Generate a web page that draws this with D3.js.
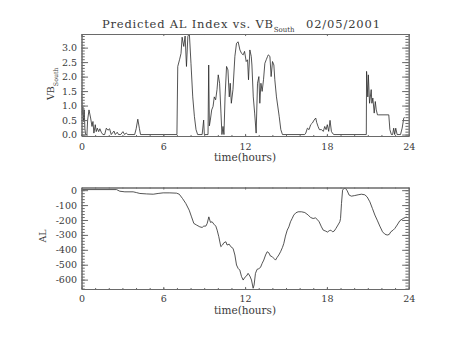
<!DOCTYPE html>
<html><head><meta charset="utf-8">
<script src="https://cdn.jsdelivr.net/npm/d3@7"></script>
<style>
html,body{margin:0;padding:0;background:#fff;}
svg{display:block;}
text{font-family:"DejaVu Serif",serif;fill:#3a3a3a;}
</style></head><body>
<svg id="c" width="454" height="341"></svg>
<script>
// ---- data ----
const vbHours = [0.0,0.05,0.1,0.15,0.2,0.25,0.3,0.4,0.45,0.55,0.67,0.77,0.84,0.91,1.01,1.08,1.16,1.26,1.35,1.45,1.57,1.7,1.82,1.94,2.06,2.18,2.38,2.48,2.62,2.72,2.87,3.04,3.16,3.28,3.4,3.9,4.01,4.13,4.25,4.33,
7.0,7.06,7.2,7.3,7.38,7.5,7.6,7.7,7.8,7.91,8.03,8.16,8.28,8.4,8.52,8.85,8.96,9.01,9.28,9.33,9.38,9.45,9.55,9.65,9.74,9.84,9.94,10.03,10.13,10.23,10.3,10.38,10.45,10.53,10.64,10.74,10.84,10.91,10.99,11.11,11.25,11.37,11.49,11.62,11.74,11.86,11.96,12.08,12.18,12.25,12.35,12.45,12.5,12.6,12.7,12.81,12.91,13.01,13.08,13.16,13.25,13.35,13.45,13.55,13.65,13.7,13.82,13.91,14.01,14.11,14.18,14.3,14.5,14.62,14.74,
16.37,16.45,16.57,16.69,16.81,16.94,17.06,17.18,17.25,17.35,17.45,17.6,17.74,17.84,17.94,18.03,18.13,18.23,18.33,18.43,18.52,
20.89,20.91,21.0,21.04,21.13,21.25,21.3,21.37,21.47,21.55,21.62,21.71,21.8,22.54,22.62,22.73,22.82,22.9,22.97,23.05,23.15,23.4,23.52,23.64,23.7];
const vbValues = [1.45,0.7,0.95,0.45,0.85,0.2,0.0,0.0,0.5,0.85,0.57,0.28,0.45,0.05,0.34,0.1,0.22,0.1,0.2,0.08,0.0,0.0,0.22,0.15,0.2,0.0,0.12,0.0,0.08,0.0,0.0,0.1,0.0,0.05,0.0,0.0,0.2,0.53,0.2,0.0,
0.0,2.35,2.6,2.8,3.36,3.04,3.4,2.35,3.38,3.5,2.46,1.3,0.63,0.17,0.0,0.0,0.5,0.0,0.0,2.4,0.3,0.5,0.85,0.97,1.3,1.2,1.55,2.06,1.77,0.74,0.0,0.28,0.0,1.3,2.35,2.23,1.3,1.77,1.08,1.55,2.7,3.15,3.2,2.92,2.8,2.75,2.87,2.52,2.58,1.89,2.92,2.7,2.4,1.3,0.74,0.05,1.77,2.0,1.08,1.77,1.49,1.89,2.46,2.58,2.7,2.75,2.7,2.0,2.52,2.4,1.89,1.3,0.63,0.17,0.0,
0.0,0.05,0.22,0.17,0.34,0.4,0.5,0.57,0.42,0.28,0.17,0.17,0.11,0.28,0.17,0.34,0.11,0.49,0.11,0.03,0.0,
0.0,2.18,1.3,2.06,1.08,1.55,1.08,1.26,0.74,1.14,0.85,0.68,0.68,0.68,0.17,0.0,0.0,0.22,0.0,0.22,0.0,0.0,0.22,0.57,0.6];

const alHours = [0,2.57,2.81,3.18,3.79,4.03,4.28,4.77,5.26,5.62,5.99,6.48,6.97,7.17,7.41,7.65,7.9,8.07,8.24,8.44,8.68,8.85,8.97,9.12,9.22,9.34,9.46,9.58,9.71,9.85,9.95,10.07,10.22,10.34,10.44,10.59,10.68,10.83,10.95,11.12,11.25,11.37,11.49,11.61,11.74,11.86,11.98,12.1,12.22,12.35,12.47,12.59,12.66,12.76,12.88,13.0,13.13,13.25,13.37,13.5,13.62,13.74,13.86,13.99,14.11,14.23,14.35,14.47,14.6,14.74,14.84,14.96,15.09,15.21,15.33,15.45,15.57,15.72,15.89,16.14,16.38,16.63,16.8,16.99,17.16,17.29,17.43,17.6,17.73,17.92,18.04,18.17,18.29,18.41,18.53,18.66,18.81,18.95,19.0,19.07,19.15,19.24,19.36,19.49,19.63,19.8,20.04,20.29,20.53,20.78,20.95,21.15,21.34,21.52,21.69,21.88,22.08,22.25,22.42,22.57,22.69,22.86,22.98,23.15,23.35,23.59,23.84];
const alValues = [4,4,-7,-11,-11,-16,-22,-25,-27,-22,-18,-18,-20,-27,-56,-89,-134,-179,-223,-234,-246,-250,-241,-241,-223,-179,-216,-212,-228,-241,-268,-312,-379,-368,-353,-346,-368,-362,-379,-391,-435,-502,-525,-536,-580,-603,-585,-576,-558,-576,-603,-658,-636,-558,-531,-527,-518,-491,-469,-435,-413,-420,-442,-446,-458,-469,-451,-435,-413,-384,-357,-308,-268,-246,-212,-190,-167,-152,-145,-145,-150,-167,-183,-190,-186,-196,-212,-246,-268,-275,-281,-272,-268,-279,-275,-257,-234,-212,-190,-89,0,11,13,-4,-33,-40,-36,-31,-27,-31,-45,-78,-123,-167,-201,-241,-279,-295,-301,-297,-279,-268,-257,-234,-205,-190,-179];

const xMajor = [0,6,12,18,24];
const vbMajor = [0,0.5,1,1.5,2,2.5,3];
const alMajor = [0,-100,-200,-300,-400,-500,-600];

// ---- layout ----
const svg = d3.select("#c");
const L = 81.5, R = 408.7;
const x = d3.scaleLinear().domain([0,24]).range([L,R]);
const xMinor = d3.range(0,25,1);
const AX = "#6a6a6a";

function panel(top, bottom, yDomain, major, minorStep, fmt, hours, values, xlabPad){
  const y = d3.scaleLinear().domain(yDomain).range([bottom, top]);
  const g = svg.append("g");
  const lo = Math.ceil(yDomain[0]/minorStep - 1e-9), hi = Math.floor(yDomain[1]/minorStep + 1e-9);
  const yMinor = d3.range(lo, hi+1).map(k => +(k*minorStep).toFixed(6));
  const W = R - L, H = bottom - top;
  const ytl = 0.02*W, xtl = 0.02*H;

  const cid = "clip"+Math.round(top);
  svg.append("clipPath").attr("id",cid).append("rect")
    .attr("x",L).attr("y",top).attr("width",W).attr("height",H);
  g.append("path").datum(hours.map((h,i)=>[h,values[i]]))
    .attr("clip-path","url(#"+cid+")")
    .attr("fill","none").attr("stroke","#2a2a2a").attr("stroke-width",0.8)
    .attr("d", d3.line().x(d=>x(d[0])).y(d=>y(d[1])));

  const style = sel => { sel.selectAll("path.domain").attr("stroke",AX);
    sel.selectAll("line").attr("stroke",AX);
    sel.attr("font-family","DejaVu Serif").attr("font-size",9.5); };

  g.append("g").attr("transform",`translate(0,${bottom})`)
    .call(d3.axisBottom(x).tickValues(xMinor).tickSize(-xtl/2).tickSizeOuter(0).tickFormat(""))
    .call(style);
  g.append("g").attr("transform",`translate(0,${bottom})`)
    .call(d3.axisBottom(x).tickValues(xMajor).tickSize(-xtl).tickSizeOuter(0).tickPadding(xlabPad).tickFormat(d3.format("d")))
    .call(style).selectAll("text").attr("fill","#3a3a3a");
  g.append("g").attr("transform",`translate(0,${top})`)
    .call(d3.axisTop(x).tickValues(xMinor).tickSize(-xtl/2).tickSizeOuter(0).tickFormat(""))
    .call(style);
  g.append("g").attr("transform",`translate(0,${top})`)
    .call(d3.axisTop(x).tickValues(xMajor).tickSize(-xtl).tickSizeOuter(0).tickFormat(""))
    .call(style);
  g.append("g").attr("transform",`translate(${L},0)`)
    .call(d3.axisLeft(y).tickValues(yMinor).tickSize(-ytl/2).tickSizeOuter(0).tickFormat(""))
    .call(style);
  g.append("g").attr("transform",`translate(${L},0)`)
    .call(d3.axisLeft(y).tickValues(major).tickSize(-ytl).tickSizeOuter(0).tickPadding(4.5).tickFormat(fmt))
    .call(style).selectAll("text").attr("fill","#3a3a3a");
  g.append("g").attr("transform",`translate(${R},0)`)
    .call(d3.axisRight(y).tickValues(yMinor).tickSize(-ytl/2).tickSizeOuter(0).tickFormat(""))
    .call(style);
  g.append("g").attr("transform",`translate(${R},0)`)
    .call(d3.axisRight(y).tickValues(major).tickSize(-ytl).tickSizeOuter(0).tickFormat(""))
    .call(style);
  return y;
}

panel(34, 136, [-0.05, 3.47], vbMajor, 0.1, d3.format(".1f"), vbHours, vbValues, 7.3);
panel(187.5, 289, [-663, 18], alMajor, 20, d => String(d), alHours, alValues, 6.6);

// ---- titles ----
const t = svg.append("text").attr("x",102).attr("y",28).attr("font-size",11.5);
t.append("tspan").text("Predicted AL Index vs. VB").attr("textLength",171).attr("lengthAdjust","spacing");
t.append("tspan").text("South").attr("font-size",7).attr("dy",4);
svg.append("text").attr("x",306).attr("y",28).attr("font-size",11.5)
  .attr("textLength",74).attr("lengthAdjust","spacing").text("02/05/2001");

svg.append("text").attr("x",245).attr("y",161).attr("font-size",10.5).attr("text-anchor","middle").text("time(hours)");
svg.append("text").attr("x",245).attr("y",314).attr("font-size",10.5).attr("text-anchor","middle").text("time(hours)");

const vl = svg.append("text").attr("transform","translate(53.5,100) rotate(-90)").attr("font-size",9.5);
vl.append("tspan").text("VB");
vl.append("tspan").text("South").attr("font-size",6.3).attr("dy",4);

svg.append("text").attr("transform","translate(45.5,236) rotate(-90)").attr("font-size",9.5)
  .attr("text-anchor","middle").text("AL");
</script>
</body></html>
